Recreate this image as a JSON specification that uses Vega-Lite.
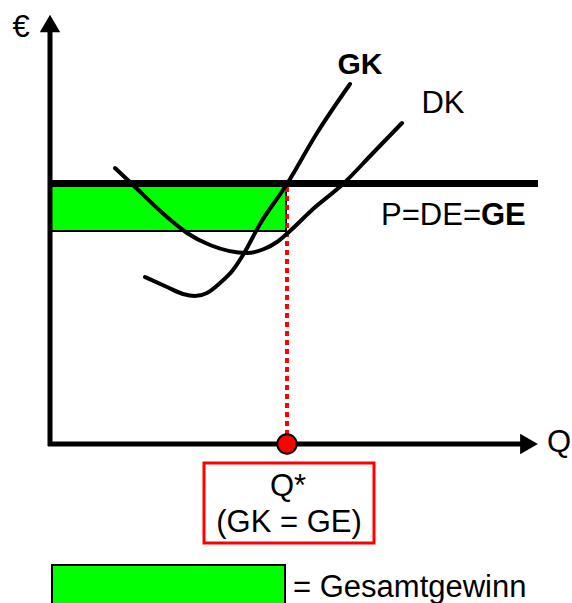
{
  "$schema": "https://vega.github.io/schema/vega-lite/v6.json",
  "width": 572,
  "height": 603,
  "autosize": {"type": "fit", "contains": "padding"},
  "padding": 0,
  "background": "white",
  "config": {"view": {"stroke": null}, "font": "Liberation Sans"},
  "datasets": {
    "greenBoxes": [
      {"item": "profit", "q": 1, "q2": 236, "e": 213, "e2": 258},
      {"item": "legend", "q": 2, "q2": 235, "e": -121, "e2": -170}
    ],
    "qBox": [{"q": 154, "q2": 324, "e": -19, "e2": -99}],
    "curves": [
      {"curve": "GK", "q": 95, "e": 167},
      {"curve": "GK", "q": 117, "e": 157},
      {"curve": "GK", "q": 133, "e": 150},
      {"curve": "GK", "q": 145, "e": 148},
      {"curve": "GK", "q": 157, "e": 151},
      {"curve": "GK", "q": 170, "e": 161},
      {"curve": "GK", "q": 183, "e": 174},
      {"curve": "GK", "q": 193, "e": 189},
      {"curve": "GK", "q": 210, "e": 220},
      {"curve": "GK", "q": 237, "e": 260},
      {"curve": "GK", "q": 267, "e": 311},
      {"curve": "GK", "q": 300, "e": 360},
      {"curve": "DK", "q": 65, "e": 276},
      {"curve": "DK", "q": 83, "e": 259},
      {"curve": "DK", "q": 117, "e": 227},
      {"curve": "DK", "q": 137, "e": 211},
      {"curve": "DK", "q": 160, "e": 199},
      {"curve": "DK", "q": 197, "e": 191},
      {"curve": "DK", "q": 214, "e": 195},
      {"curve": "DK", "q": 227, "e": 202},
      {"curve": "DK", "q": 240, "e": 213},
      {"curve": "DK", "q": 263, "e": 235},
      {"curve": "DK", "q": 293, "e": 260},
      {"curve": "DK", "q": 323, "e": 291},
      {"curve": "DK", "q": 352, "e": 321}
    ],
    "priceLine": [{"q": -2, "q2": 488, "e": 260.5}],
    "axesLines": [
      {"axis": "euro", "q": 0, "q2": 0, "e": -2, "e2": 413},
      {"axis": "Q", "q": -2, "q2": 472, "e": 0, "e2": 0}
    ],
    "arrows": [
      {"dir": "up", "q": 0, "e": 420.5},
      {"dir": "right", "q": 479, "e": 0}
    ],
    "qStar": [{"q": 237, "e": 0, "e2": 257}],
    "labels": [
      {"label": "€", "q": -29, "e": 407, "style": "normal-center"},
      {"label": "GK", "q": 310, "e": 370, "style": "bold-center"},
      {"label": "DK", "q": 393, "e": 331, "style": "normal-center"},
      {"label": "P=DE=", "q": 431, "e": 219, "style": "normal-right"},
      {"label": "GE", "q": 431, "e": 219, "style": "bold-left"},
      {"label": "Q", "q": 497, "e": -8, "style": "normal-left"},
      {"label": "Q*", "q": 238, "e": -52, "style": "normal-center"},
      {"label": "(GK = GE)", "q": 239, "e": -88, "style": "normal-center"},
      {"label": "= Gesamtgewinn", "q": 243, "e": -153, "style": "normal-left"}
    ]
  },
  "layer": [
    {
      "data": {"name": "greenBoxes"},
      "mark": {"type": "rect", "fill": "#00ff00", "stroke": "black", "strokeWidth": 2, "clip": true},
      "encoding": {
        "x": {"field": "q", "type": "quantitative", "scale": {"domain": [-50, 522], "nice": false, "zero": false}, "axis": null},
        "x2": {"field": "q2"},
        "y": {"field": "e", "type": "quantitative", "scale": {"domain": [-159, 444], "nice": false, "zero": false}, "axis": null},
        "y2": {"field": "e2"}
      }
    },
    {
      "data": {"name": "qBox"},
      "mark": {"type": "rect", "fill": null, "fillOpacity": 0, "stroke": "#ff0000", "strokeWidth": 3},
      "encoding": {
        "x": {"field": "q", "type": "quantitative"},
        "x2": {"field": "q2"},
        "y": {"field": "e", "type": "quantitative"},
        "y2": {"field": "e2"}
      }
    },
    {
      "data": {"name": "qStar"},
      "mark": {"type": "rule", "color": "#ff0000", "strokeWidth": 4, "strokeDash": [5, 4]},
      "encoding": {
        "x": {"field": "q", "type": "quantitative"},
        "y": {"field": "e", "type": "quantitative"},
        "y2": {"field": "e2"}
      }
    },
    {
      "data": {"name": "curves"},
      "mark": {"type": "line", "color": "black", "strokeWidth": 4, "interpolate": "monotone", "strokeCap": "round"},
      "encoding": {
        "x": {"field": "q", "type": "quantitative"},
        "y": {"field": "e", "type": "quantitative"},
        "detail": {"field": "curve"},
        "order": {"field": "q"}
      }
    },
    {
      "data": {"name": "priceLine"},
      "mark": {"type": "rule", "color": "black", "strokeWidth": 7},
      "encoding": {
        "x": {"field": "q", "type": "quantitative"},
        "x2": {"field": "q2"},
        "y": {"field": "e", "type": "quantitative"}
      }
    },
    {
      "data": {"name": "axesLines"},
      "mark": {"type": "rule", "color": "black", "strokeWidth": 5},
      "encoding": {
        "x": {"field": "q", "type": "quantitative"},
        "x2": {"field": "q2"},
        "y": {"field": "e", "type": "quantitative"},
        "y2": {"field": "e2"}
      }
    },
    {
      "data": {"name": "arrows"},
      "mark": {"type": "point", "filled": true, "color": "black", "size": 420, "opacity": 1},
      "encoding": {
        "x": {"field": "q", "type": "quantitative"},
        "y": {"field": "e", "type": "quantitative"},
        "shape": {"field": "dir", "type": "nominal", "scale": {"domain": ["up", "right"], "range": ["triangle-up", "triangle-right"]}, "legend": null}
      }
    },
    {
      "data": {"name": "qStar"},
      "mark": {"type": "point", "filled": true, "fill": "#ff0000", "stroke": "black", "strokeWidth": 2, "size": 380, "opacity": 1, "shape": "circle"},
      "encoding": {
        "x": {"field": "q", "type": "quantitative"},
        "y": {"field": "e", "type": "quantitative"}
      }
    },
    {
      "data": {"name": "labels"},
      "transform": [{"filter": "datum.style === 'normal-center'"}],
      "mark": {"type": "text", "fontSize": 31, "align": "center", "baseline": "alphabetic", "color": "black"},
      "encoding": {
        "x": {"field": "q", "type": "quantitative"},
        "y": {"field": "e", "type": "quantitative"},
        "text": {"field": "label"}
      }
    },
    {
      "data": {"name": "labels"},
      "transform": [{"filter": "datum.style === 'normal-left'"}],
      "mark": {"type": "text", "fontSize": 31, "align": "left", "baseline": "alphabetic", "color": "black"},
      "encoding": {
        "x": {"field": "q", "type": "quantitative"},
        "y": {"field": "e", "type": "quantitative"},
        "text": {"field": "label"}
      }
    },
    {
      "data": {"name": "labels"},
      "transform": [{"filter": "datum.style === 'normal-right'"}],
      "mark": {"type": "text", "fontSize": 31, "align": "right", "baseline": "alphabetic", "color": "black"},
      "encoding": {
        "x": {"field": "q", "type": "quantitative"},
        "y": {"field": "e", "type": "quantitative"},
        "text": {"field": "label"}
      }
    },
    {
      "data": {"name": "labels"},
      "transform": [{"filter": "datum.style === 'bold-center'"}],
      "mark": {"type": "text", "fontSize": 30, "fontWeight": "bold", "align": "center", "baseline": "alphabetic", "color": "black"},
      "encoding": {
        "x": {"field": "q", "type": "quantitative"},
        "y": {"field": "e", "type": "quantitative"},
        "text": {"field": "label"}
      }
    },
    {
      "data": {"name": "labels"},
      "transform": [{"filter": "datum.style === 'bold-left'"}],
      "mark": {"type": "text", "fontSize": 31, "fontWeight": "bold", "align": "left", "baseline": "alphabetic", "color": "black"},
      "encoding": {
        "x": {"field": "q", "type": "quantitative"},
        "y": {"field": "e", "type": "quantitative"},
        "text": {"field": "label"}
      }
    }
  ]
}
